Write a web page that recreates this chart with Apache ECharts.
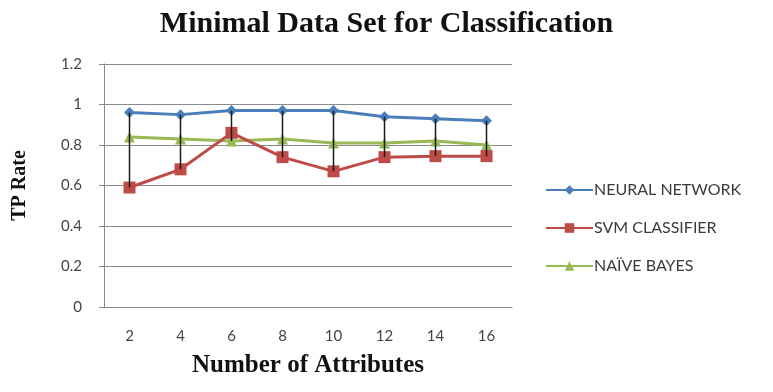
<!DOCTYPE html>
<html>
<head>
<meta charset="utf-8">
<script src="https://cdn.jsdelivr.net/npm/echarts@6/dist/echarts.min.js"></script>
<style>
  html, body { margin: 0; padding: 0; background: #fff; }
  #chart { width: 773px; height: 392px; }
</style>
</head>
<body>
<div id="chart"></div>
<script>
// number of attributes
const attributes = ['2', '4', '6', '8', '10', '12', '14', '16']
// TP rate per classifier
const neuralNetwork = [0.96, 0.95, 0.97, 0.97, 0.97, 0.94, 0.93, 0.92]
const svmClassifier = [0.59, 0.68, 0.86, 0.74, 0.67, 0.74, 0.745, 0.745]
const naiveBayes = [0.84, 0.83, 0.82, 0.83, 0.81, 0.81, 0.82, 0.80]
const yTicks = [0, 0.2, 0.4, 0.6, 0.8, 1, 1.2]

// high-low lines: [index, high, low]
const highLow = attributes.map((a, i) => {
  const v = [neuralNetwork[i], svmClassifier[i], naiveBayes[i]]
  return [i, Math.max(...v), Math.min(...v)]
})

const chart = echarts.init(document.getElementById('chart'))

chart.setOption({
  animation: false,
  title: {
    text: 'Minimal Data Set for Classification',
    left: 'center',
    top: 4,
    textStyle: {
      fontFamily: 'Liberation Serif',
      fontWeight: 'bold',
      fontSize: 30,
      color: '#111'
    }
  },
  grid: {
    left: 104,
    right: 261,
    top: 64,
    bottom: 85
  },
  legend: {
    orient: 'vertical',
    left: 540,
    top: 177,
    itemGap: 22,
    itemWidth: 47,
    itemHeight: 12,
    textStyle: {
      fontFamily: 'Lato',
      fontSize: 16,
      color: '#3a3a3a',
      padding: [0, 0, 0, -4]
    },
    data: ['NEURAL NETWORK', 'SVM CLASSIFIER', 'NAÏVE BAYES']
  },
  xAxis: {
    type: 'category',
    data: attributes,
    boundaryGap: true,
    name: 'Number of Attributes',
    nameLocation: 'middle',
    nameGap: 46,
    nameTextStyle: {
      fontFamily: 'Liberation Serif',
      fontWeight: 'bold',
      fontSize: 25,
      color: '#111'
    },
    axisLine: { lineStyle: { color: '#8a8a8a', width: 1 } },
    axisTick: { show: false },
    axisLabel: {
      margin: 22,
      fontFamily: 'Lato',
      fontSize: 15,
      color: '#444'
    }
  },
  yAxis: {
    type: 'value',
    min: 0,
    max: 1.2,
    interval: 0.2,
    name: 'TP Rate',
    nameLocation: 'middle',
    nameGap: 74,
    nameTextStyle: {
      fontFamily: 'Liberation Serif',
      fontWeight: 'bold',
      fontSize: 20,
      color: '#111'
    },
    axisLine: { show: true, lineStyle: { color: '#8a8a8a', width: 1 } },
    axisTick: { show: true, length: 5, lineStyle: { color: '#8a8a8a' } },
    axisLabel: {
      margin: 22,
      fontFamily: 'Lato',
      fontSize: 15,
      color: '#444',
      formatter: v => {
        const t = yTicks.find(y => Math.abs(y - v) < 1e-6)
        return t === undefined ? '' : String(t)
      }
    },
    splitLine: { lineStyle: { color: '#8a8a8a', width: 1 } }
  },
  series: [
    {
      name: 'NEURAL NETWORK',
      type: 'line',
      data: neuralNetwork,
      symbol: 'diamond',
      symbolSize: 11,
      z: 4,
      lineStyle: { color: '#4a7ebb', width: 3 },
      itemStyle: { color: '#4a7ebb' }
    },
    {
      name: 'SVM CLASSIFIER',
      type: 'line',
      data: svmClassifier,
      symbol: 'rect',
      symbolSize: 12,
      z: 4,
      lineStyle: { color: '#be4b48', width: 3 },
      itemStyle: { color: '#be4b48' }
    },
    {
      name: 'NAÏVE BAYES',
      type: 'line',
      data: naiveBayes,
      symbol: 'triangle',
      symbolSize: 11,
      z: 3,
      lineStyle: { color: '#98b954', width: 3 },
      itemStyle: { color: '#98b954' }
    },
    {
      type: 'custom',
      z: 5,
      data: highLow,
      renderItem: (params, api) => {
        const hi = api.coord([api.value(0), api.value(1)])
        const lo = api.coord([api.value(0), api.value(2)])
        return {
          type: 'line',
          shape: { x1: hi[0], y1: hi[1], x2: lo[0], y2: lo[1] },
          style: { stroke: '#1a1a1a', lineWidth: 1.5 }
        }
      }
    }
  ]
})
</script>
</body>
</html>
